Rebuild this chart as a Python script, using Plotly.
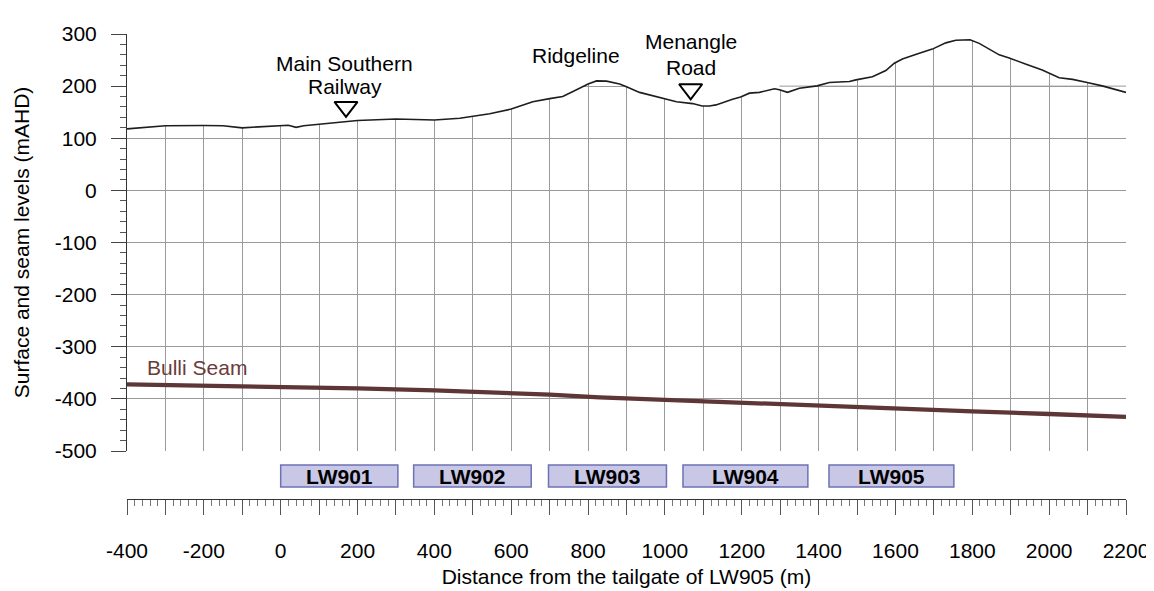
import plotly.graph_objects as go

# ---- data ----
surface_x = [-400, -300, -200, -150, -100, -50, 0, 20, 40, 60, 100, 150, 200, 300, 400,
             466, 500, 544, 600, 656, 700, 734, 770, 800, 822, 848, 882, 900, 934, 968,
             1000, 1030, 1072, 1097, 1116, 1133, 1176, 1197, 1220, 1246, 1285, 1298, 1319,
             1350, 1396, 1428, 1480, 1497, 1540, 1575, 1597, 1618, 1662, 1696, 1731, 1757,
             1794, 1818, 1870, 1896, 1940, 1982, 2026, 2061, 2096, 2138, 2200]
surface_y = [118, 124, 124.5, 124, 120, 122, 124, 125, 121, 124, 127, 131, 134, 137, 135,
             138.5, 142, 147, 156, 170, 176, 180, 193, 204, 210, 209.5, 204, 199, 188, 182,
             175, 170, 166.5, 162, 162, 164, 175, 179, 186.5, 188, 195, 193, 188,
             196, 200.5, 207, 209, 212, 218, 230, 244, 252, 263, 271, 283, 288,
             289, 282, 260, 254, 242, 231, 216, 213, 207.5, 200.5, 188]

seam_x = [-400, -200, -100, 200, 400, 600, 700, 830, 1000, 1200, 1400, 1600, 1800, 2000, 2200]
seam_y = [-372, -374, -375.5, -380, -383.5, -388, -392, -397, -402, -408, -413, -418.5, -424, -429, -434.5]

panel_names = ["LW901", "LW902", "LW903", "LW904", "LW905"]
panel_start = [0, 346, 697, 1047, 1427]
panel_end = [305, 652, 1004, 1372, 1752]

feature_x = [170, 1067]          # Main Southern Railway, Menangle Road
feature_y = [160, 194]

label_text = ["Main Southern", "Railway", "Ridgeline", "Menangle", "Road", "Razorback Range"]
label_x = [167, 167, 768, 1067, 1068, 1784]
label_y = [244, 200, 259, 285, 236, 329]

grid200_extent = [1298, 2200]

x_range = [-400, 2200]
y_range = [-500, 300]
x_ticks = list(range(-400, 2201, 100))
x_ticktext = [str(v) if v % 200 == 0 else "" for v in x_ticks]
y_ticks = list(range(-500, 301, 100))
y_ticktext = [str(v) for v in y_ticks]

FONT = "Liberation Sans, Arial, Helvetica, sans-serif"
GRID = "#9a9a9a"

fig = go.Figure()

# white mask above the ground surface (hides grid lines above it)
fig.add_trace(go.Scatter(
    x=surface_x + [x_range[1], x_range[0]],
    y=surface_y + [y_range[1], y_range[1]],
    fill="toself", fillcolor="white", mode="lines", line=dict(width=0, color="white"),
    hoverinfo="skip", showlegend=False))

# 200 m grid segment that remains on the right
fig.add_trace(go.Scatter(x=grid200_extent, y=[200, 200], mode="lines",
                         line=dict(color=GRID, width=1), hoverinfo="skip", showlegend=False))

# surface profile
fig.add_trace(go.Scatter(x=surface_x, y=surface_y, mode="lines",
                         line=dict(color="#1e1e1e", width=1.6), showlegend=False))

# Bulli seam
fig.add_trace(go.Scatter(x=seam_x, y=seam_y, mode="lines",
                         line=dict(color="#5e3636", width=4.3), showlegend=False))

# feature markers
fig.add_trace(go.Scatter(x=feature_x, y=feature_y, mode="markers",
                         marker=dict(symbol="triangle-down-open", size=20, color="black",
                                     line=dict(width=2, color="black")),
                         showlegend=False))

# invisible trace on the ruler axis
fig.add_trace(go.Scatter(x=x_range, y=[None, None], xaxis="x2", yaxis="y",
                         mode="lines", showlegend=False, hoverinfo="skip"))

annotations = []
for t, xv, yv in zip(label_text, label_x, label_y):
    annotations.append(dict(x=xv, y=yv, xref="x", yref="y", text=t, showarrow=False,
                            font=dict(size=21, color="black", family=FONT),
                            xanchor="center", yanchor="middle"))
annotations.append(dict(x=-219, y=-340, xref="x", yref="y", text="Bulli Seam", showarrow=False,
                        font=dict(size=21, color="#6b3b3b", family=FONT),
                        xanchor="center", yanchor="middle"))

shapes = []
box_y0, box_y1 = 0.0258, 0.0731
for name, s, e in zip(panel_names, panel_start, panel_end):
    shapes.append(dict(type="rect", xref="x", yref="paper", x0=s, x1=e, y0=box_y0, y1=box_y1,
                       fillcolor="#c9c7e6", line=dict(color="#6d71b5", width=1.5), layer="above"))
    annotations.append(dict(x=(s + e) / 2, y=(box_y0 + box_y1) / 2, xref="x", yref="paper",
                            text="<b>" + name + "</b>", showarrow=False,
                            font=dict(size=21, color="black", family=FONT),
                            xanchor="center", yanchor="middle"))

# page body has an 8px margin, so the figure is sized to fit the 1154x591 window
fig.update_layout(
    width=1146, height=583,
    margin=dict(l=119, r=28, t=26, b=92),
    plot_bgcolor="white", paper_bgcolor="white", showlegend=False,
    font=dict(family=FONT, size=21, color="black"),
    annotations=annotations, shapes=shapes,
    xaxis=dict(range=x_range, anchor="y",
               tickmode="array", tickvals=x_ticks, ticks="", showticklabels=False,
               showline=False, showgrid=True, gridcolor=GRID, gridwidth=1, zeroline=False,
               automargin=False),
    xaxis2=dict(range=x_range, anchor="free", position=0, overlaying="x", matches="x",
                tickmode="array", tickvals=x_ticks, ticktext=x_ticktext,
                ticks="outside", ticklen=15, tickcolor="#555", tickwidth=1,
                showline=True, linecolor="#333", linewidth=1,
                showgrid=False, zeroline=False,
                minor=dict(tickmode="linear", tick0=0, dtick=20, ticks="outside", ticklen=6,
                           tickcolor="#777", showgrid=False),
                ticklabelstandoff=18, automargin=False,
                tickfont=dict(size=21),
                title=dict(text="Distance from the tailgate of LW905 (m)", standoff=8,
                           font=dict(size=21))),
    yaxis=dict(range=y_range, domain=[0.1032, 1],
               tickmode="array", tickvals=y_ticks, ticktext=y_ticktext,
               ticks="outside", ticklen=15, tickcolor="#444", tickwidth=1,
               showline=True, linecolor="#333", linewidth=1,
               showgrid=True, gridcolor=GRID, gridwidth=1, zeroline=False,
               minor=dict(tickmode="linear", tick0=0, dtick=20, ticks="outside", ticklen=6,
                          tickcolor="#555", showgrid=False),
               ticklabelstandoff=10, automargin=False,
               tickfont=dict(size=21),
               title=dict(text="Surface and seam levels (mAHD)", standoff=19,
                          font=dict(size=21))),
)

fig.write_html("out.html")
